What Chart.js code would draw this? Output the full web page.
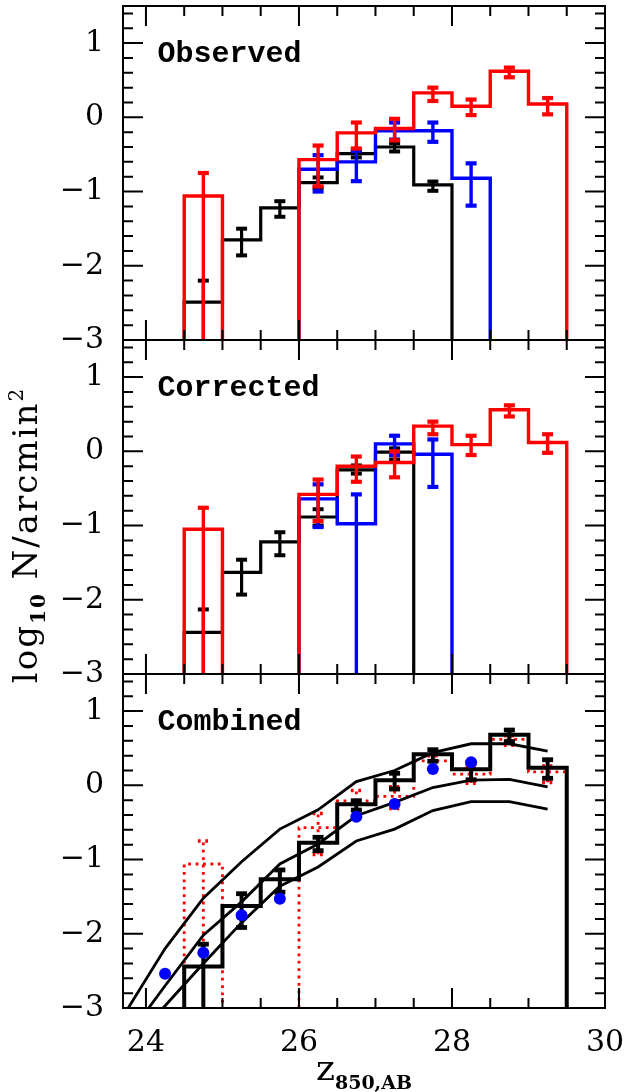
<!DOCTYPE html>
<html>
<head>
<meta charset="utf-8">
<title>Number counts</title>
<script src="https://cdn.jsdelivr.net/npm/chart.js@4.4.0/dist/chart.umd.min.js"></script>
<style>
  html, body { margin: 0; padding: 0; background: #fff; }
  canvas { display: block; }
</style>
</head>
<body>
<canvas id="countsChart" width="625" height="1092"></canvas>
<script>
// Axis ranges and tick values
const xMin = 23.7, xMax = 30;
const yMin = -3, yMax = 1.5;
const xTickValues = [24, 26, 28, 30];
const yTickValues = [-3, -2, -1, 0, 1];
const binWidth = 0.5;

// Panel 1: observed counts (bin centres, log10 N, upper / lower error)
const obsBlackX = [24.75, 25.25, 25.75, 26.25, 26.75, 27.25, 27.75];
const obsBlackY = [-2.49, -1.65, -1.22, -0.88, -0.49, -0.40, -0.91];
const obsBlackHi = [-2.20, -1.50, -1.13, -0.81, -0.45, -0.35, -0.865];
const obsBlackLo = [-3, -1.86, -1.34, -0.95, -0.54, -0.46, -0.99];

const obsBlueX = [26.25, 26.75, 27.25, 27.75, 28.25];
const obsBlueY = [-0.70, -0.60, -0.18, -0.18, -0.82];
const obsBlueHi = [-0.51, -0.45, -0.07, -0.07, -0.62];
const obsBlueLo = [-1.00, -0.86, -0.30, -0.33, -1.19];

const obsRedX = [24.75, 26.25, 26.75, 27.25, 27.75, 28.25, 28.75, 29.25];
const obsRedY = [-1.06, -0.57, -0.21, -0.15, 0.33, 0.15, 0.62, 0.18];
const obsRedHi = [-0.75, -0.38, -0.07, -0.02, 0.40, 0.24, 0.67, 0.26];
const obsRedLo = [-3, -0.93, -0.42, -0.31, 0.22, 0.03, 0.54, 0.04];

// Panel 2: completeness-corrected counts
const corBlackX = [24.75, 25.25, 25.75, 26.25, 26.75, 27.25];
const corBlackY = [-2.44, -1.63, -1.22, -0.885, -0.25, -0.01];
const corBlackHi = [-2.13, -1.46, -1.09, -0.78, -0.19, 0.04];
const corBlackLo = [-3, -1.93, -1.40, -1.00, -0.30, -0.11];

const corBlueX = [26.25, 26.75, 27.25, 27.75];
const corBlueY = [-0.64, -0.975, 0.10, -0.04];
const corBlueHi = [-0.445, -0.58, 0.21, 0.16];
const corBlueLo = [-1.02, -3, -0.05, -0.48];

const corRedX = [24.75, 26.25, 26.75, 27.25, 27.75, 28.25, 28.75, 29.25];
const corRedY = [-1.05, -0.58, -0.20, -0.15, 0.34, 0.09, 0.56, 0.12];
const corRedHi = [-0.76, -0.38, -0.07, 0.00, 0.40, 0.21, 0.62, 0.23];
const corRedLo = [-3, -0.94, -0.41, -0.35, 0.23, -0.05, 0.47, -0.02];

// Panel 3: combined counts, literature points and model curves
const combX = [24.75, 25.25, 25.75, 26.25, 26.75, 27.25, 27.75, 28.25, 28.75, 29.25];
const combY = [-2.44, -1.625, -1.265, -0.775, -0.255, 0.07, 0.42, 0.216, 0.683, 0.237];
const combHi = [-2.14, -1.46, -1.14, -0.70, -0.207, 0.162, 0.48, 0.30, 0.745, 0.345];
const combLo = [-3, -1.915, -1.44, -0.88, -0.333, -0.05, 0.324, 0.075, 0.59, 0.095];

const litX = [24.25, 24.75, 25.25, 25.75, 26.75, 27.25, 27.75, 28.25];
const litY = [-2.54, -2.257, -1.75, -1.527, -0.423, -0.252, 0.221, 0.311];

const modelX = [23.75, 24.25, 24.75, 25.25, 25.75, 26.25, 26.75, 27.25, 27.75, 28.25, 28.75, 29.25];
const modelHigh = [-3.03, -2.20, -1.52, -1.03, -0.59, -0.33, 0.05, 0.20, 0.44, 0.56, 0.56, 0.46];
const modelMid = [-3.40, -2.70, -2.02, -1.57, -1.06, -0.79, -0.41, -0.23, -0.03, 0.07, 0.08, -0.02];
const modelLow = [-3.55, -2.97, -2.40, -1.85, -1.36, -1.10, -0.75, -0.59, -0.34, -0.22, -0.22, -0.32];

const panelIds = ['yObs', 'yCor', 'yComb'];
const panelNames = ['Observed', 'Corrected', 'Combined'];

const RED = '#ff0000', BLUE = '#0000ff', BLACK = '#000000';
const DOTS = [2.8, 4.6];

// Turn bin centres + values into a stepped outline that drops to the floor at each end
function stepLine(xs, ys) {
  const pts = [];
  let prevEdge = null;
  xs.forEach((x, i) => {
    const lo = x - binWidth / 2;
    const hi = x + binWidth / 2;
    if (prevEdge === null || Math.abs(prevEdge - lo) > 1e-6) {
      if (prevEdge !== null) {
        pts.push({ x: prevEdge, y: yMin });
        pts.push({ x: (prevEdge + lo) / 2, y: null });
      }
      pts.push({ x: lo, y: yMin });
    }
    pts.push({ x: lo, y: ys[i] }, { x: hi, y: ys[i] });
    prevEdge = hi;
  });
  pts.push({ x: prevEdge, y: yMin });
  return pts;
}

function histogram(panel, color, xs, ys, hi, lo, width, dash) {
  return {
    type: 'line',
    yAxisID: panel,
    data: stepLine(xs, ys),
    borderColor: color,
    borderWidth: width,
    borderDash: dash || [],
    borderCapStyle: 'butt',
    borderJoinStyle: 'miter',
    pointRadius: 0,
    fill: false,
    tension: 0,
    spanGaps: false,
    errorBars: { x: xs, hi: hi, lo: lo, dash: dash, width: width }
  };
}

function curve(xs, ys) {
  return {
    type: 'line',
    yAxisID: 'yComb',
    data: xs.map((x, i) => ({ x: x, y: ys[i] })),
    borderColor: BLACK,
    borderWidth: 2.8,
    pointRadius: 0,
    fill: false,
    tension: 0
  };
}

function drawErrorBars(ctx, xs, ys, ds) {
  const eb = ds.errorBars;
  ctx.save();
  ctx.strokeStyle = ds.borderColor;
  ctx.setLineDash(eb.dash || []);
  ctx.lineCap = 'butt';
  eb.x.forEach((x, i) => {
    const px = xs.getPixelForValue(x);
    const top = ys.getPixelForValue(eb.hi[i]);
    const bot = ys.getPixelForValue(eb.lo[i]);
    ctx.lineWidth = eb.width;
    ctx.beginPath();
    ctx.moveTo(px, bot);
    ctx.lineTo(px, top);
    ctx.stroke();
    ctx.lineWidth = eb.width + 0.8;
    [[eb.hi[i], top], [eb.lo[i], bot]].forEach(([v, py]) => {
      if (v <= ys.min) return;
      ctx.beginPath();
      ctx.moveTo(px - 5.5, py);
      ctx.lineTo(px + 5.5, py);
      ctx.stroke();
    });
  });
  ctx.restore();
}

// Each dataset is clipped to its own panel, error bars drawn with it
const panelClip = {
  id: 'panelClip',
  beforeDatasetDraw(chart, args) {
    const ys = args.meta.yScale;
    const area = chart.chartArea;
    chart.ctx.save();
    chart.ctx.beginPath();
    chart.ctx.rect(area.left, ys.top, area.right - area.left, ys.bottom - ys.top);
    chart.ctx.clip();
  },
  afterDatasetDraw(chart, args) {
    const ds = chart.data.datasets[args.index];
    if (ds.errorBars) drawErrorBars(chart.ctx, args.meta.xScale, args.meta.yScale, ds);
    chart.ctx.restore();
  }
};

// Boxes round the panels with inward tick marks on all four sides
const frame = {
  id: 'frame',
  afterDatasetsDraw(chart) {
    const ctx = chart.ctx;
    const xs = chart.scales.x;
    const area = chart.chartArea;
    ctx.save();
    ctx.strokeStyle = BLACK;
    ctx.lineWidth = 2;
    ctx.setLineDash([]);
    panelIds.forEach(id => {
      const ys = chart.scales[id];
      ctx.strokeRect(area.left, ys.top, area.right - area.left, ys.bottom - ys.top);
      ctx.beginPath();
      for (let k = -15; k <= 7; k++) {
        const py = ys.getPixelForValue(k * 0.2);
        const len = k % 5 === 0 ? 20 : 10;
        ctx.moveTo(area.left, py);
        ctx.lineTo(area.left + len, py);
        ctx.moveTo(area.right, py);
        ctx.lineTo(area.right - len, py);
      }
      for (let k = 48; k < 60; k++) {
        const px = xs.getPixelForValue(k * 0.5);
        const len = k % 4 === 0 ? 20 : 10;
        ctx.moveTo(px, ys.bottom);
        ctx.lineTo(px, ys.bottom - len);
        ctx.moveTo(px, ys.top);
        ctx.lineTo(px, ys.top + len);
      }
      ctx.stroke();
    });
    ctx.restore();
  },
  afterDraw(chart) {
    const ctx = chart.ctx;
    const xs = chart.scales.x;
    ctx.save();
    ctx.fillStyle = BLACK;
    ctx.textBaseline = 'alphabetic';

    // panel names
    ctx.font = 'bold 30px "Liberation Mono"';
    ctx.textAlign = 'left';
    panelIds.forEach((id, i) => {
      const ys = chart.scales[id];
      ctx.fillText(panelNames[i], xs.getPixelForValue(24.15), ys.getPixelForValue(0.75));
    });

    // y axis title, rotated, with subscript and superscript
    const yParts = [
      { t: 'log', f: '34px "DejaVu Serif"', dy: 0 },
      { t: '10', f: 'bold 20px "DejaVu Serif"', dy: 8 },
      { t: ' N/arcmin', f: '34px "DejaVu Serif"', dy: 0 },
      { t: '2', f: '20px "DejaVu Serif"', dy: -14 }
    ];
    const mid = chart.scales.yCor;
    ctx.translate(37, (mid.top + mid.bottom) / 2 + 28);
    ctx.rotate(-Math.PI / 2);
    ctx.letterSpacing = '2px';
    drawParts(ctx, yParts);
    ctx.letterSpacing = '0px';
    ctx.setTransform(1, 0, 0, 1, 0, 0);

    // x axis title
    const xParts = [
      { t: 'z', f: '36px "DejaVu Serif"', dy: 0 },
      { t: '850,AB', f: 'bold 19px "DejaVu Serif"', dy: 9 }
    ];
    ctx.translate((chart.chartArea.left + chart.chartArea.right) / 2, 1080);
    drawParts(ctx, xParts);
    ctx.restore();
  }
};

function drawParts(ctx, parts) {
  let total = 0;
  parts.forEach(p => { ctx.font = p.f; p.w = ctx.measureText(p.t).width; total += p.w; });
  let x = -total / 2;
  ctx.textAlign = 'left';
  parts.forEach(p => {
    ctx.font = p.f;
    ctx.fillText(p.t, x, p.dy);
    x += p.w;
  });
}

function panelScale(weight) {
  return {
    type: 'linear',
    position: 'left',
    stack: 'panels',
    stackWeight: 1,
    weight: weight,
    min: yMin,
    max: yMax,
    afterBuildTicks: s => { s.ticks = yTickValues.map(v => ({ value: v })); },
    afterFit: s => { s.width = 123; s.paddingTop = 0; s.paddingBottom = 0; },
    grid: { display: false, drawTicks: false },
    border: { display: false },
    ticks: {
      color: BLACK,
      padding: 19,
      autoSkip: false,
      font: { family: 'DejaVu Serif', size: 30 },
      callback: v => String(v).replace('-', '\u2212')
    }
  };
}

// Listed bottom layer first; Chart.js paints lower `order` on top
const datasets = [
  histogram('yObs', BLACK, obsBlackX, obsBlackY, obsBlackHi, obsBlackLo, 3.2),
  histogram('yObs', BLUE, obsBlueX, obsBlueY, obsBlueHi, obsBlueLo, 3.4),
  histogram('yObs', RED, obsRedX, obsRedY, obsRedHi, obsRedLo, 3.4),
  histogram('yCor', BLACK, corBlackX, corBlackY, corBlackHi, corBlackLo, 3.2),
  histogram('yCor', BLUE, corBlueX, corBlueY, corBlueHi, corBlueLo, 3.4),
  histogram('yCor', RED, corRedX, corRedY, corRedHi, corRedLo, 3.4),
  histogram('yComb', RED, obsRedX, obsRedY, obsRedHi, obsRedLo, 2.8, DOTS),
  curve(modelX, modelHigh),
  curve(modelX, modelMid),
  curve(modelX, modelLow),
  histogram('yComb', BLACK, combX, combY, combHi, combLo, 4),
  {
    type: 'scatter',
    yAxisID: 'yComb',
    data: litX.map((x, i) => ({ x: x, y: litY[i] })),
    pointRadius: 6,
    pointBackgroundColor: BLUE,
    pointBorderWidth: 0,
    showLine: false
  }
];
datasets.forEach((ds, i) => { ds.order = datasets.length - i; });

const countsChart = new Chart(document.getElementById('countsChart'), {
  type: 'line',
  data: { datasets: datasets },
  options: {
    responsive: false,
    animation: false,
    devicePixelRatio: 1,
    layout: { padding: { top: 6, right: 20, bottom: 0, left: 0 } },
    plugins: { legend: { display: false }, tooltip: { enabled: false } },
    scales: {
      x: {
        type: 'linear',
        position: 'bottom',
        min: xMin,
        max: xMax,
        afterBuildTicks: s => { s.ticks = xTickValues.map(v => ({ value: v })); },
        afterFit: s => { s.height = 84; s.paddingLeft = 0; s.paddingRight = 0; },
        grid: { display: false, drawTicks: false },
        border: { display: false },
        ticks: {
          color: BLACK,
          padding: 17,
          autoSkip: false,
          maxRotation: 0,
          font: { family: 'DejaVu Serif', size: 30 }
        }
      },
      yObs: panelScale(3),
      yCor: panelScale(2),
      yComb: panelScale(1)
    }
  },
  plugins: [panelClip, frame]
});
</script>
</body>
</html>
